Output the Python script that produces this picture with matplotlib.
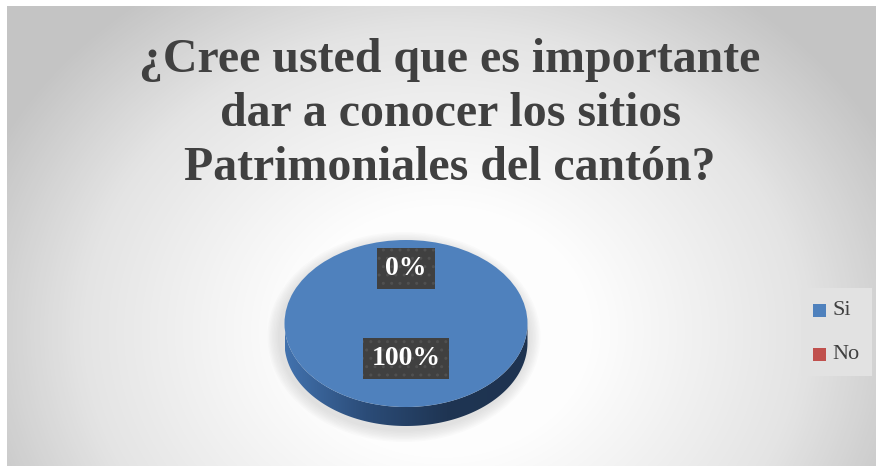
import numpy as np
import matplotlib.pyplot as plt
from matplotlib.patches import Wedge, Polygon, Ellipse, Rectangle
from matplotlib.transforms import Affine2D
from matplotlib.colors import LinearSegmentedColormap

title = "¿Cree usted que es importante\ndar a conocer los sitios\nPatrimoniales del cantón?"
labels = ["Si", "No"]
values = [100, 0]
colors = ["#4F81BD", "#C0504D"]

W, H = 876, 466
fig = plt.figure(figsize=(W / 100, H / 100), dpi=100)
fig.patch.set_facecolor("white")

# background with radial gradient
bg = fig.add_axes([7 / W, 0, 1 - 7 / W, 1 - 6 / H])
yy, xx = np.mgrid[0:460, 0:869]
d = np.sqrt(((xx - 435) / 500.0) ** 2 + ((yy - 325) / 420.0) ** 2)
d = np.clip(d, 0, 1)
bgcmap = LinearSegmentedColormap.from_list(
    "bg", [(0, "#FFFFFF"), (0.3, "#FDFDFD"), (0.72, "#E4E4E4"), (1.0, "#C4C4C4")])
bg.imshow(d, cmap=bgcmap, aspect="auto", vmin=0, vmax=1)
bg.axis("off")

# pixel-coordinate overlay
ax = fig.add_axes([0, 0, 1, 1])
ax.set_xlim(0, W)
ax.set_ylim(0, H)
ax.axis("off")
ax.patch.set_alpha(0)

cx, cy = 406, H - 323.5
rx, ry = 121.5, 83.5
depth = 19

# soft shadow
for i in range(8):
    ax.add_patch(Ellipse((cx - 2, cy - depth / 2 - 4), 2 * rx + 30 - 3 * i, 2 * ry + depth + 24 - 3 * i,
                         fc="#9A9A9A", ec="none", alpha=0.035, zorder=1))

# side of the pie
t = np.linspace(np.pi, 2 * np.pi, 200)
top_x = cx + rx * np.cos(t)
top_y = cy + ry * np.sin(t)
pts = np.concatenate([np.column_stack([top_x, top_y]),
                      np.column_stack([top_x[::-1], top_y[::-1] - depth])])
side = Polygon(pts, closed=True, fc="none", ec="none")
ax.add_patch(side)
sidecmap = LinearSegmentedColormap.from_list("side", ["#4272AE", "#2B4C78", "#1F3553", "#1E3350"])
grad = np.linspace(0, 1, 256)[None, :]
im = ax.imshow(grad, cmap=sidecmap, extent=[cx - rx, cx + rx, cy - ry - depth, cy], aspect="auto",
               zorder=2, interpolation="bicubic")
im.set_clip_path(side)

# top face from values
tr = Affine2D().scale(rx, ry).translate(cx, cy) + ax.transData
total = float(sum(values))
start = 90.0
mids = []
for v, c in zip(values, colors):
    span = 360.0 * v / total
    ax.add_patch(Wedge((0, 0), 1, start - span, start, fc=c, ec="none", transform=tr, zorder=3))
    mids.append(np.deg2rad(start - span / 2))
    start -= span

# data labels
radii = [0.42, 0.66]
for v, m, r in zip(values, mids, radii):
    lx = cx + r * rx * np.cos(m)
    ly = cy + r * ry * np.sin(m)
    ax.text(lx, ly, f"{v}%", ha="center", va="center", color="white", fontsize=20,
            fontweight="bold", family="Liberation Serif", zorder=5,
            bbox=dict(boxstyle="square,pad=0.3", fc="#404040", ec="#505050", lw=0, hatch=".."))

# title
fig.text(450 / W, 1 - 114 / H, title, ha="center", va="center", fontsize=34.5, fontweight="bold",
         family="Liberation Serif", color="#404040", linespacing=1.28)

# legend
ax.add_patch(Rectangle((801, H - 376), 71, 88, fc="#E2E2E2", ec="none", zorder=3))
for i, (lab, c) in enumerate(zip(labels, colors)):
    y = H - 310.5 - 44 * i
    ax.add_patch(Rectangle((813, y - 6.5), 13, 13, fc=c, ec="none", zorder=4))
    ax.text(832, y, lab, ha="left", va="center", fontsize=16, family="Liberation Serif",
            color="#404040", zorder=4)

fig.savefig("out.png", dpi=100)
